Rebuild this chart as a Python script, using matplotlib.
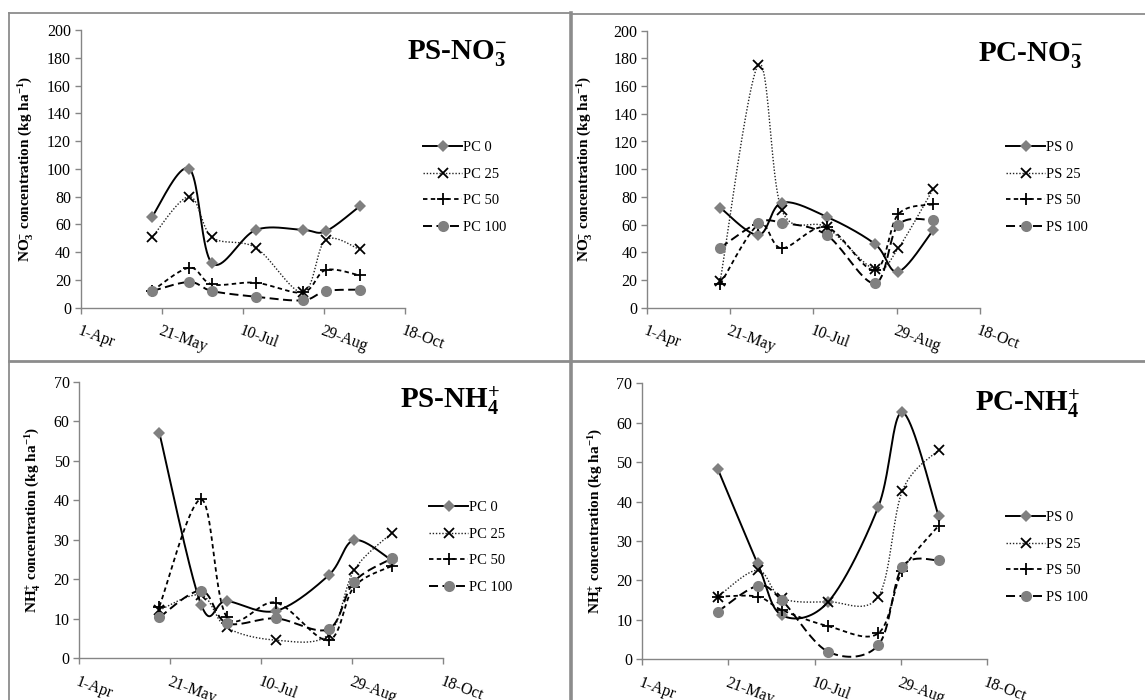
import numpy as np
import matplotlib
matplotlib.use("Agg")
import matplotlib.pyplot as plt
import matplotlib.dates as mdates
from matplotlib.lines import Line2D
import datetime as dt

plt.rcParams['font.family'] = ['Liberation Serif', 'DejaVu Serif']
plt.rcParams['mathtext.fontset'] = 'custom'
plt.rcParams['mathtext.rm'] = 'Liberation Serif'
plt.rcParams['mathtext.it'] = 'Liberation Serif:italic'
plt.rcParams['mathtext.bf'] = 'Liberation Serif:bold'
plt.rcParams['lines.scale_dashes'] = False

# ---------------- data ----------------
sample_dates = ['2011-05-15', '2011-06-07', '2011-06-21', '2011-07-18',
                '2011-08-16', '2011-08-30', '2011-09-20']
tick_dates = ['2011-04-01', '2011-05-21', '2011-07-10', '2011-08-29', '2011-10-18']
tick_labels = ['1-Apr', '21-May', '10-Jul', '29-Aug', '18-Oct']

labels_pc = ['PC 0', 'PC 25', 'PC 50', 'PC 100']
labels_ps = ['PS 0', 'PS 25', 'PS 50', 'PS 100']

# PS-NO3-
ps_no3_0 = [65.5, 100, 32, 56, 56, 55, 73]
ps_no3_25 = [50.7, 80, 50.7, 43.2, 11, 48.7, 42]
ps_no3_50 = [12, 28.8, 16.8, 18, 11, 27.1, 23.3]
ps_no3_100 = [12, 18.5, 12, 7.9, 5.3, 12, 13]

# PC-NO3-
pc_no3_0 = [72.2, 52.5, 75.8, 65.7, 46, 26, 56]
pc_no3_25 = [19.3, 175.5, 70.5, 58, 27.7, 42.9, 85.7]
pc_no3_50 = [16.9, 60, 42.9, 58, 27, 67.4, 74.6]
pc_no3_100 = [43.3, 61.4, 61.4, 52.5, 17.6, 59.7, 63.3]

# PS-NH4+
ps_nh4_0 = [57, 13.5, 14.5, 12, 21, 29.9, 24.7]
ps_nh4_25 = [12.2, 16, 7.8, 4.6, 6, 22.3, 31.8]
ps_nh4_50 = [13.1, 40.2, 10.5, 14.1, 4.6, 18.1, 23.4]
ps_nh4_100 = [10.4, 17.1, 8.9, 10.1, 7.4, 19.4, 25.3]

# PC-NH4+
pc_nh4_0 = [48.2, 24.3, 11.2, 14.6, 38.7, 62.6, 36.3]
pc_nh4_25 = [15.9, 22.6, 15.5, 14.6, 15.9, 42.8, 53.1]
pc_nh4_50 = [15.9, 15.9, 12.5, 8.4, 6.6, 22.5, 33.9]
pc_nh4_100 = [12.1, 18.6, 15, 1.9, 3.6, 23.5, 25.1]

# ---------------- styles ----------------
GRAY = '#858585'
MGRAY = '#808080'
styles = [
    dict(color='black', lw=1.4, ls='-', marker='D', ms=5.8, mfc=MGRAY, mec=MGRAY, mew=0),
    dict(color='#222222', lw=1.0, ls=(0, (1, 1.3)), marker='x', ms=6.5, mfc='black', mec='black', mew=1.3),
    dict(color='black', lw=1.3, ls=(0, (3.2, 2.4)), marker='+', ms=8, mfc='black', mec='black', mew=1.3),
    dict(color='black', lw=1.4, ls=(0, (6.5, 3.2)), marker='o', ms=8, mfc=MGRAY, mec=MGRAY, mew=0),
]


def smooth(x, y, n=40):
    """Excel-like smoothed line: Catmull-Rom converted to cubic Bezier."""
    P = np.column_stack([x, y]).astype(float)
    out = []
    m = len(P)
    t = np.linspace(0, 1, n)[:, None]
    for i in range(m - 1):
        p0 = P[i - 1] if i > 0 else P[i]
        p1 = P[i]
        p2 = P[i + 1]
        p3 = P[i + 2] if i + 2 < m else P[i + 1]
        c1 = p1 + (p2 - p0) / 6.0
        c2 = p2 - (p3 - p1) / 6.0
        seg = ((1 - t) ** 3) * p1 + 3 * ((1 - t) ** 2) * t * c1 + 3 * (1 - t) * t ** 2 * c2 + t ** 3 * p2
        out.append(seg if i == 0 else seg[1:])
    out = np.vstack(out)
    return out[:, 0], out[:, 1]


W, H = 1145, 700
fig = plt.figure(figsize=(W / 100, H / 100), dpi=100)

xd = mdates.date2num([dt.datetime.strptime(s, '%Y-%m-%d') for s in sample_dates])
xt = mdates.date2num([dt.datetime.strptime(s, '%Y-%m-%d') for s in tick_dates])


def px_axes(l, r, top, bot):
    return fig.add_axes([l / W, 1 - bot / H, (r - l) / W, (bot - top) / H])


panels = [
    dict(box=(80.7, 405, 30, 307.7), series=[ps_no3_0, ps_no3_25, ps_no3_50, ps_no3_100],
         labels=labels_pc, ymax=200, ystep=20,
         ylabel=r'NO$_\mathbf{3}^{\mathbf{-}}$ concentration (kg ha$^{\mathbf{-1}}$)',
         title=r'PS-NO$_\mathbf{3}^{\mathbf{-}}$', title_pos=(507, 58.5),
         leg=(423, 141), ylab_x=-0.141),
    dict(box=(647, 979.7, 30.7, 307.7), series=[pc_no3_0, pc_no3_25, pc_no3_50, pc_no3_100],
         labels=labels_ps, ymax=200, ystep=20,
         ylabel=r'NO$_\mathbf{3}^{\mathbf{-}}$ concentration (kg ha$^{\mathbf{-1}}$)',
         title=r'PC-NO$_\mathbf{3}^{\mathbf{-}}$', title_pos=(1083, 61.5),
         leg=(1006, 141), ylab_x=-0.160),
    dict(box=(79.3, 443.3, 381.7, 658.3), series=[ps_nh4_0, ps_nh4_25, ps_nh4_50, ps_nh4_100],
         labels=labels_pc, ymax=70, ystep=10,
         ylabel=r'NH$_\mathbf{4}^{\mathbf{+}}$ concentration (kg ha$^{\mathbf{-1}}$)',
         title=r'PS-NH$_\mathbf{4}^{\mathbf{+}}$', title_pos=(500, 408.5),
         leg=(429, 501), ylab_x=-0.103),
    dict(box=(642, 987, 383.3, 659.3), series=[pc_nh4_0, pc_nh4_25, pc_nh4_50, pc_nh4_100],
         labels=labels_ps, ymax=70, ystep=10,
         ylabel=r'NH$_\mathbf{4}^{\mathbf{+}}$ concentration (kg ha$^{\mathbf{-1}}$)',
         title=r'PC-NH$_\mathbf{4}^{\mathbf{+}}$', title_pos=(1080, 412),
         leg=(1006, 511), ylab_x=-0.106),
]

for p in panels:
    l, r, top, bot = p['box']
    ax = px_axes(l, r, top, bot)
    handles = []
    for vals, st, lab in zip(p['series'], styles, p['labels']):
        sx, sy = smooth(xd, vals)
        ax.plot(sx, sy, color=st['color'], lw=st['lw'], ls=st['ls'], zorder=2, clip_on=False)
        ax.plot(xd, vals, ls='none', marker=st['marker'], ms=st['ms'], mfc=st['mfc'],
                mec=st['mec'], mew=st['mew'], zorder=3, clip_on=False)
        handles.append(Line2D([], [], color=st['color'], lw=st['lw'], ls=st['ls'],
                              marker=st['marker'], ms=st['ms'], mfc=st['mfc'],
                              mec=st['mec'], mew=st['mew'], label=lab))
    ax.set_xlim(xt[0], xt[-1])
    ax.set_ylim(0, p['ymax'])
    ax.set_yticks(np.arange(0, p['ymax'] + 1, p['ystep']))
    ax.set_xticks(xt)
    ax.set_xticklabels(tick_labels, rotation=-20, ha='left', va='top', rotation_mode='anchor')
    for s in ['top', 'right']:
        ax.spines[s].set_visible(False)
    for s in ['left', 'bottom']:
        ax.spines[s].set_color(GRAY)
        ax.spines[s].set_linewidth(1.0)
    ax.tick_params(axis='both', direction='out', length=4, width=1, color=GRAY,
                   labelsize=11.5, labelcolor='black')
    ax.tick_params(axis='x', pad=7)
    ax.tick_params(axis='y', pad=3)
    ax.set_ylabel(p['ylabel'], fontsize=11, fontweight='bold')
    ax.yaxis.set_label_coords(p['ylab_x'], 0.5)
    ax.patch.set_alpha(0)

    tx, ty = p['title_pos']
    fig.text(tx / W, 1 - ty / H, p['title'], ha='right', va='baseline',
             fontsize=21, fontweight='bold')

    lx, ly = p['leg']
    fig.legend(handles=handles, loc='upper left', bbox_to_anchor=(lx / W, 1 - ly / H),
               frameon=False, fontsize=10.5, handlelength=2.7, handletextpad=0.05,
               labelspacing=0.92, borderpad=0, borderaxespad=0)

# panel borders
BC = '#8c8c8c'
def fline(x0, y0, x1, y1, lw):
    fig.add_artist(Line2D([x0 / W, x1 / W], [1 - y0 / H, 1 - y1 / H], color=BC, lw=lw,
                          transform=fig.transFigure))

fline(9, 13, 569, 13, 1.3)
fline(572, 14, W, 14, 1.3)
fline(9, 13, 9, H, 1.3)
fline(570.5, 13, 570.5, H, 2.6)
fline(9, 360.5, W, 360.5, 2.0)

fig.savefig('out.png', dpi=100)
